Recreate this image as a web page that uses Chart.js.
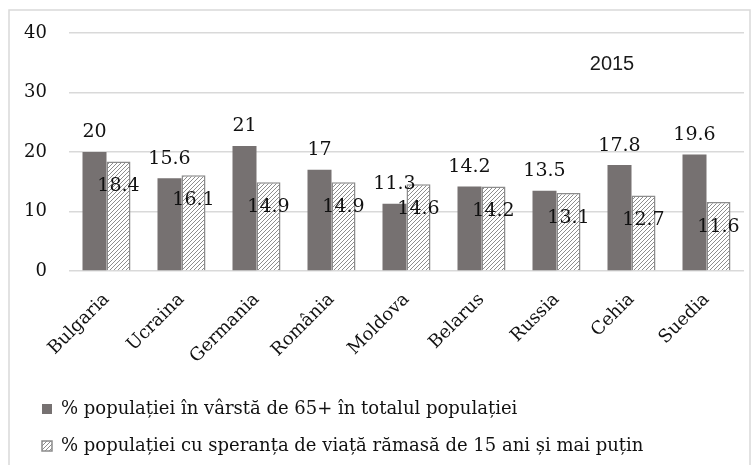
<!DOCTYPE html>
<html>
<head>
<meta charset="utf-8">
<script src="https://cdn.jsdelivr.net/npm/chart.js@4/dist/chart.umd.min.js"></script>
<style>
  html, body { margin: 0; padding: 0; background: #fff; }
  #wrap { width: 752px; height: 465px; }
</style>
</head>
<body>
<div id="wrap"><canvas id="chart_2015"></canvas></div>
<script>
// date 2015
const categories = ["Bulgaria", "Ucraina", "Germania", "România", "Moldova", "Belarus", "Russia", "Cehia", "Suedia"];
const seriesNames = ["% populației în vârstă de 65+ în totalul populației",
                     "% populației cu speranța de viață rămasă de 15 ani și mai puțin"];
const share65 = [20, 15.6, 21, 17, 11.3, 14.2, 13.5, 17.8, 19.6];
const shortLife = [18.4, 16.1, 14.9, 14.9, 14.6, 14.2, 13.1, 12.7, 11.6];
const yTicks = [0, 10, 20, 30, 40];
const yearLabel = "2015";

var serif = "'DejaVu Serif', 'Liberation Serif', serif";

// hasura
function hatch() {
  var c = document.createElement("canvas");
  c.width = 4; c.height = 4;
  var g = c.getContext("2d");
  g.fillStyle = "#ffffff";
  g.fillRect(0, 0, 4, 4);
  g.strokeStyle = "#808080";
  g.lineWidth = 0.9;
  g.beginPath();
  g.moveTo(0, 4); g.lineTo(4, 0);
  g.moveTo(-1, 1); g.lineTo(1, -1);
  g.moveTo(3, 5); g.lineTo(5, 3);
  g.stroke();
  return g.createPattern(c, "repeat");
}
var hatchFill = hatch();

// chenar + anul
var frame = {
  id: "frame",
  beforeDraw: function (chart) {
    var ctx = chart.ctx;
    ctx.save();
    ctx.fillStyle = "#fff";
    ctx.fillRect(0, 0, chart.width, chart.height);
    ctx.strokeStyle = "#d9d9d9";
    ctx.lineWidth = 1.5;
    ctx.strokeRect(9, 10, 741, 520);
    ctx.restore();
  },
  afterDraw: function (chart) {
    var ctx = chart.ctx;
    ctx.save();
    ctx.fillStyle = "#1a1a1a";
    ctx.font = "20px 'Liberation Sans', Arial, sans-serif";
    ctx.textAlign = "center";
    ctx.textBaseline = "middle";
    ctx.fillText(yearLabel, 612, 64);
    ctx.restore();
  }
};

// etichete valori
var valueLabels = {
  id: "valueLabels",
  afterDatasetsDraw: function (chart) {
    var ctx = chart.ctx;
    ctx.save();
    ctx.fillStyle = "#111";
    ctx.font = "19px " + serif;
    ctx.textAlign = "center";
    chart.data.datasets.forEach(function (ds, di) {
      chart.getDatasetMeta(di).data.forEach(function (bar, i) {
        var txt = String(ds.data[i]);
        if (di === 0) {
          ctx.textBaseline = "bottom";
          ctx.fillText(txt, bar.x, bar.y - 10);
        } else {
          ctx.textBaseline = "middle";
          ctx.fillText(txt, bar.x, bar.y + 25);
        }
      });
    });
    ctx.restore();
  }
};

new Chart(document.getElementById("chart_2015"), {
  type: 'bar',
  data: {
    labels: categories,
    datasets: [{
      label: seriesNames[0],
      data: share65,
      backgroundColor: "#767171",
      borderWidth: 0
    }, {
      label: seriesNames[1],
      data: shortLife,
      backgroundColor: hatchFill,
      borderColor: "#8c8c8c",
      borderWidth: 1.5
    }]
  },
  plugins: [frame, valueLabels],
  options: {
    responsive: true,
    maintainAspectRatio: false,
    animation: false,
    layout: { padding: { left: 23, right: 8, top: 33, bottom: 0 } },
    datasets: { bar: { categoryPercentage: 0.64, barPercentage: 1 } },
    scales: {
      x: {
        grid: { display: false },
        border: { display: false },
        ticks: {
          minRotation: 45, maxRotation: 45,
          color: "#111",
          font: { family: serif, size: 18 },
          padding: 10
        },
        afterFit: function (scale) { scale.height = 110; }
      },
      y: {
        min: 0, max: 40,
        afterBuildTicks: function (scale) {
          scale.ticks = yTicks.map(function (v) { return { value: v }; });
        },
        grid: { color: "#d9d9d9", lineWidth: 1.5, drawTicks: false },
        border: { display: false },
        ticks: {
          color: "#111",
          font: { family: serif, size: 18 },
          padding: 22
        },
        afterFit: function (scale) { scale.width = 46; }
      }
    },
    plugins: {
      tooltip: { enabled: false },
      legend: {
        position: 'bottom',
        align: 'start',
        labels: {
          boxWidth: 10,
          boxHeight: 10,
          padding: 19,
          color: "#111",
          font: { family: serif, size: 18 }
        }
      }
    }
  }
});
</script>
</body>
</html>
